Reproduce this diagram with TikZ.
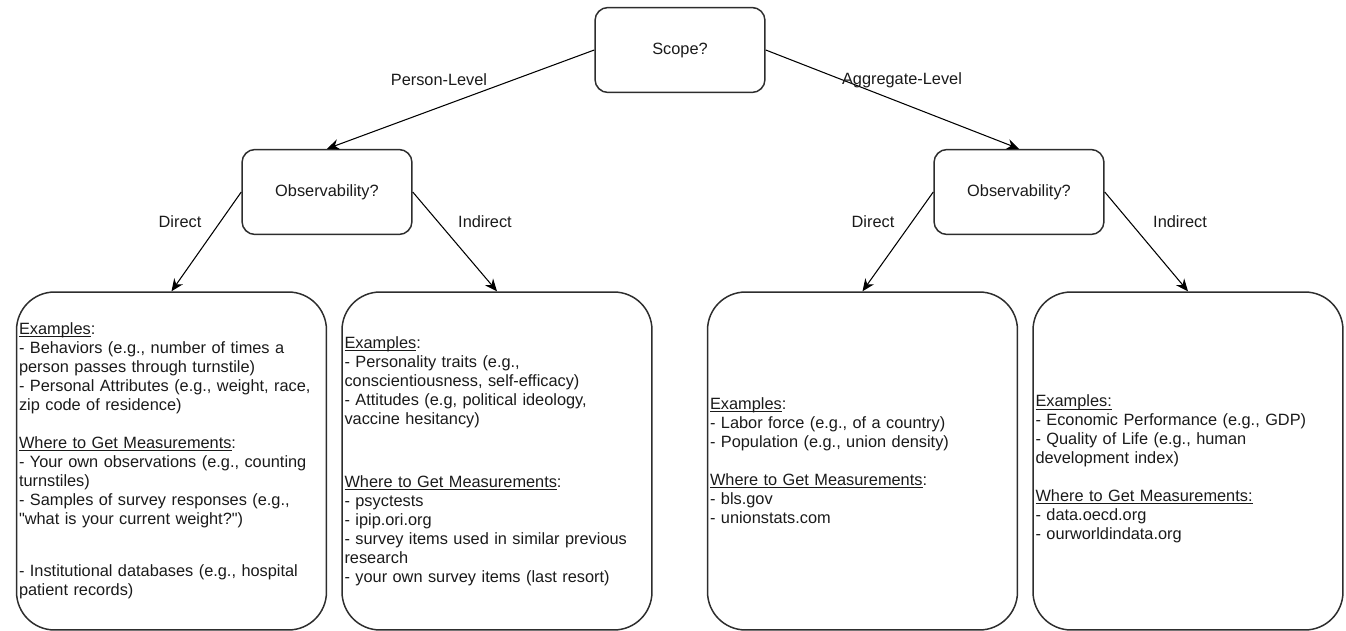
\documentclass[tikz,border=0pt]{standalone}
\usepackage{fontspec}
\setmainfont{Liberation Sans}[Ligatures=TeXOff]
\usepackage{tikz}
\usetikzlibrary{arrows.meta}
\usetikzlibrary{positioning}
\definecolor{inkgray}{RGB}{26, 26, 26}
\definecolor{edgegray}{RGB}{45, 45, 45}
\newcommand{\boxfont}{\fontsize{9.3}{10.8}\selectfont}
\newlength{\ulwidth}
\newcommand{\uword}[1]{\leavevmode\settowidth{\ulwidth}{#1}\rlap{\rule[-1.4pt]{\ulwidth}{0.5pt}}#1}
\tikzset{
    question/.style={draw=edgegray, line width=0.85pt, rounded corners=0.26cm,
        minimum width=3.4cm, minimum height=1.7cm, font=\boxfont, text=inkgray},
    infobox/.style={draw=edgegray, line width=0.85pt, rounded corners=0.76cm,
        minimum width=6.2cm, minimum height=6.76cm, text width=6.1cm,
        inner xsep=0.05cm, align=left, font=\boxfont, text=inkgray},
    branch/.style={font=\boxfont, text=inkgray, inner sep=1pt},
    link/.style={-{Stealth[length=7pt,width=6pt]}, line width=0.6pt, draw=black}
}

\begin{document}
\begin{tikzpicture}[x=0.02cm, y=-0.02cm]
    \useasboundingbox (0,0) rectangle (1346,631);

    \node[question] (scope) at ( 680.0, 50.0) {Scope?};
    \node[question] (obsL)  at ( 327.0,192.0) {Observability?};
    \node[question] (obsR)  at (1019.0,192.0) {Observability?};

    \node[infobox] (direL) at ( 171.5,461.0) {\uword{Examples}:\\
        - Behaviors (e.g., number of times a\\
        person passes through turnstile)\\
        - Personal Attributes (e.g., weight, race,\\
        zip code of residence)\\[10.8pt]
        \uword{Where to Get Measurements}:\\
        - Your own observations (e.g., counting\\
        turnstiles)\\
        - Samples of survey responses (e.g.,\\
        "what is your current weight?")\\[19pt]
        - Institutional databases (e.g., hospital\\
        patient records)};
    \node[infobox] (indiL) at ( 497.0,461.0) {\uword{Examples}:\\
        - Personality traits (e.g.,\\
        conscientiousness, self-efficacy)\\
        - Attitudes (e.g, political ideology,\\
        vaccine hesitancy)\\[25pt]
        \uword{Where to Get Measurements}:\\
        - psyctests\\
        - ipip.ori.org\\
        - survey items used in similar previous\\
        research\\
        - your own survey items (last resort)};
    \node[infobox] (direR) at ( 862.5,461.0) {\uword{Examples}:\\
        - Labor force (e.g., of a country)\\
        - Population (e.g., union density)\\[10.8pt]
        \uword{Where to Get Measurements}:\\
        - bls.gov\\
        - unionstats.com};
    \node[infobox] (indiR) at (1188.0,461.0) {\rule{0pt}{16pt}\uword{Examples:}\\
        - Economic Performance (e.g., GDP)\\
        - Quality of Life (e.g., human\\
        development index)\\[10.8pt]
        \uword{Where to Get Measurements:}\\
        - data.oecd.org\\
        - ourworldindata.org};

    \draw[link] (scope.west) -- (obsL.north);
    \draw[link] (scope.east) -- (obsR.north);
    \draw[link] (obsL.west)  -- (direL.north);
    \draw[link] (obsL.east)  -- (indiL.north);
    \draw[link] (obsR.west)  -- (direR.north);
    \draw[link] (obsR.east)  -- (indiR.north);

    \node[branch] (person)  at ( 439.0, 80.0) {Person-Level};
    \node[branch] (aggr)    at ( 902.0, 80.0) {Aggregate-Level};
    \node[branch] (dirLlab) at ( 180.0,222.0) {Direct};
    \node[branch] (indLlab) at ( 485.0,222.0) {Indirect};
    \node[branch] (dirRlab) at ( 873.0,222.0) {Direct};
    \node[branch] (indRlab) at (1180.0,222.0) {Indirect};
\end{tikzpicture}
\end{document}
